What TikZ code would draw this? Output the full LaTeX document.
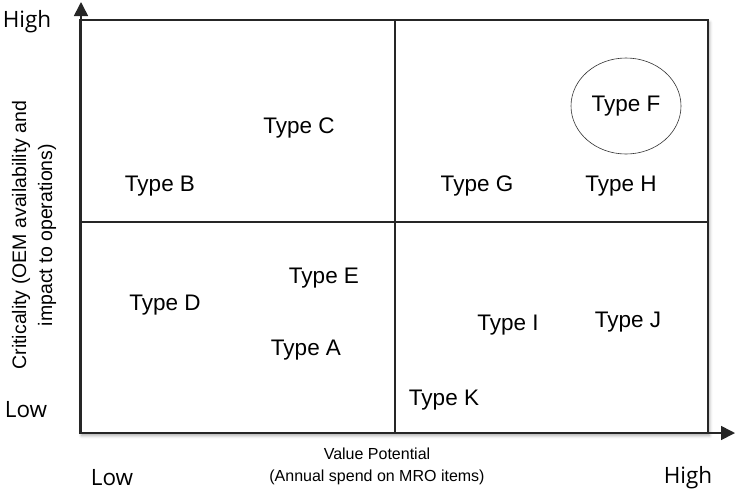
\documentclass[tikz,border=0pt]{standalone}
\usepackage{fontspec}
\setmainfont{Liberation Sans}
\newfontfamily\tickfont{Open Sans}
\usetikzlibrary{arrows.meta,shapes.geometric,shadows.blur}
\begin{document}
\begin{tikzpicture}[x=1pt,y=-1pt,
  grid/.style={line width=1.6pt,draw=black!85},
  axis/.style={line width=1.6pt,draw=black!85,-{Triangle[width=14pt,length=14pt]}},
  soft/.style={blur shadow={shadow xshift=1.5pt,shadow yshift=-2.5pt,shadow blur radius=3pt,shadow opacity=35}},
  item/.style={font=\fontsize{22.5}{26}\selectfont},
  tick/.style={font=\tickfont\fontsize{22.5}{26}\selectfont},
  title/.style={font=\fontsize{16}{22}\selectfont,align=center}]
\useasboundingbox (0,0) rectangle (735,491);

% quadrant frame and dividers
\draw[grid,fill=white,soft] (80,20) rectangle (708,433);
\draw[grid] (395,20) -- (395,433);
\draw[grid] (80,222) -- (708,222);

% axes
\coordinate (origin) at (81,433);
\coordinate (ytip) at (81,2);
\coordinate (xtip) at (735,433);
\draw[axis] (origin) -- (ytip);
\draw[axis] (80,433) -- (xtip);

% axis end labels
\node[tick] (yhigh) at (27,22) {High};
\node[tick] (ylow) at (26,410) {Low};
\node[tick] (xlow) at (112,478) {Low};
\node[tick] (xhigh) at (688,478) {High};

% axis titles
\node[title] (xtitle) at (377,466) {Value Potential\\(Annual spend on MRO items)};
\node[title,font=\fontsize{19.5}{26}\selectfont,rotate=90] (ytitle) at (34,235) {Criticality (OEM availability and\\impact to operations)};

% item types
\node[item] (tc) at (299,128) {Type C};
\node[item] (tb) at (160,186) {Type B};
\node[item] (tg) at (477,186) {Type G};
\node[item] (th) at (621,186) {Type H};
\node[item,ellipse,draw=black!80,line width=0.6pt,minimum width=110pt,minimum height=96pt,inner sep=0pt] (tf) at (626,106) {Type F};
\node[item] (te) at (324,278) {Type E};
\node[item] (td) at (165,305) {Type D};
\node[item] (ta) at (306,350) {Type A};
\node[item] (ti) at (508,325) {Type I};
\node[item] (tj) at (628,322) {Type J};
\node[item] (tk) at (444,400) {Type K};
\end{tikzpicture}
\end{document}
